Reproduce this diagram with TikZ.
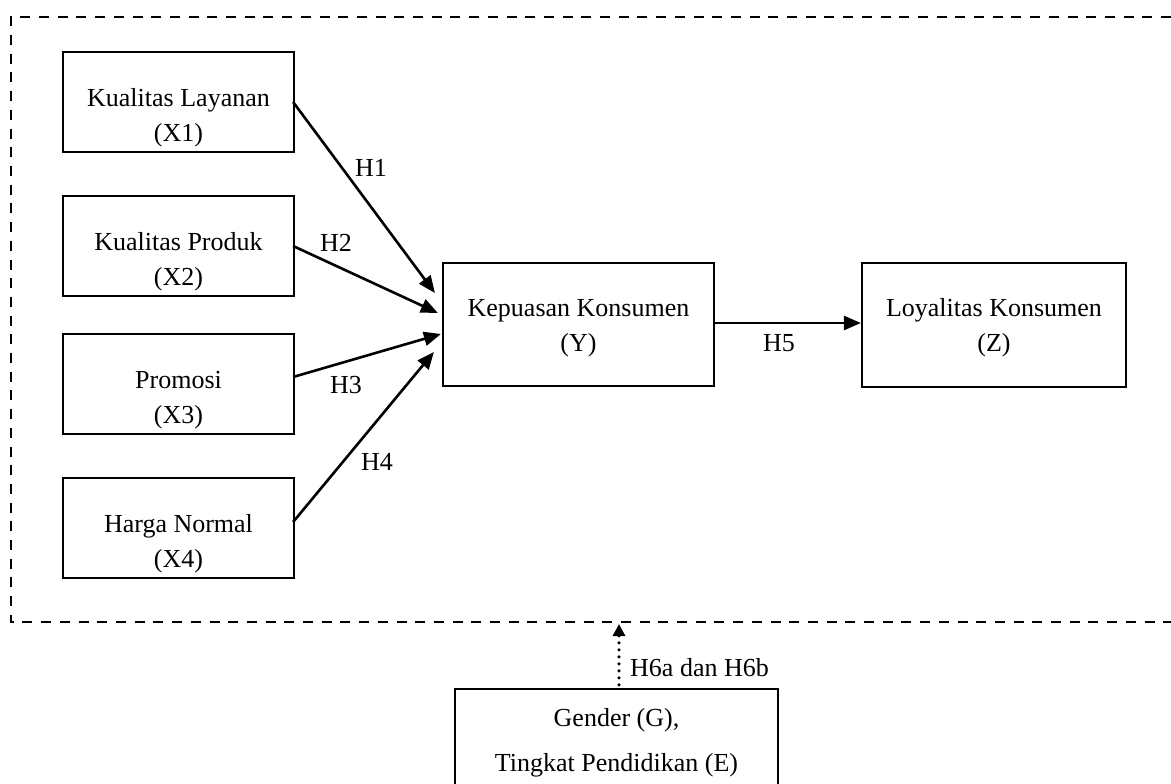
\documentclass[tikz,border=0pt]{standalone}
\usepackage{fontspec}
\setmainfont{Liberation Serif}
\usetikzlibrary{arrows.meta,calc}
\begin{document}
\begin{tikzpicture}[x=1pt,y=-1pt,
  box/.style={draw=black, line width=2.2pt, inner sep=0pt},
  txt/.style={font=\fontsize{26}{35}\selectfont, align=center, inner sep=0pt},
  lbl/.style={font=\fontsize{26}{31}\selectfont, inner sep=0pt},
  arr/.style={line width=2.6pt, -{Triangle[length=17pt,width=14pt]}},
  framedash/.style={line width=2.8pt, dash pattern=on 10pt off 8.7pt},
  dotarr/.style={line width=3.6pt, line cap=round, dash pattern=on 0pt off 7pt, -{Triangle[length=12pt,width=12pt]}}]
\clip (0,0) rectangle (1171,784);
\fill[white] (0,0) rectangle (1171,784);
% dashed frame
\draw[framedash] (1171,17) -- (11,17) -- (11,622) -- (1171,622);
\coordinate (fb) at (619,624);
% boxes
\node[box, minimum width=231pt, minimum height=100pt] (x1) at (178.5,102) {};
\node[box, minimum width=231pt, minimum height=100pt] (x2) at (178.5,246) {};
\node[box, minimum width=231pt, minimum height=100pt] (x3) at (178.5,384) {};
\node[box, minimum width=231pt, minimum height=100pt] (x4) at (178.5,528) {};
\node[box, minimum width=271pt, minimum height=123pt] (y) at (578.5,324.5) {};
\node[box, minimum width=264pt, minimum height=124pt] (z) at (994,325) {};
\node[box, minimum width=323pt, minimum height=160pt] (g) at (616.5,769) {};
% texts
\node[txt] (x1t) at ($(x1.center)+(0,16)$) {Kualitas Layanan\\(X1)};
\node[txt] (x2t) at ($(x2.center)+(0,16)$) {Kualitas Produk\\(X2)};
\node[txt] (x3t) at ($(x3.center)+(0,16)$) {Promosi\\(X3)};
\node[txt] (x4t) at ($(x4.center)+(0,16)$) {Harga Normal\\(X4)};
\node[txt] (yt) at ($(y.center)+(0,4)$) {Kepuasan Konsumen\\(Y)};
\node[txt] (zt) at ($(z.center)+(0,3)$) {Loyalitas Konsumen\\(Z)};
\node[txt, font=\fontsize{26}{45}\selectfont] (gt) at (616.5,743) {Gender (G),\\Tingkat Pendidikan (E)};
% arrows
\draw[arr] ($(x1.east)+(-2,0)$) -- ($(y.west)+(-7,-31.5)$);
\draw[arr] ($(x2.east)+(-2,0)$) -- ($(y.west)+(-4,-11.5)$);
\draw[arr] ($(x3.east)+(-2,-7)$) -- ($(y.west)+(-1,9.5)$);
\draw[arr] ($(x4.east)+(-2,-6)$) -- ($(y.west)+(-8,27.5)$);
\draw[arr] ($(y.east)+(0,-1.5)$) -- ($(z.west)+(0,-2)$);
\draw[dotarr] ($(g.north)+(2.5,-3)$) -- (fb);
% labels
\node[lbl] (h1) at (371,168) {H1};
\node[lbl] (h2) at (336,243) {H2};
\node[lbl] (h3) at (346,385) {H3};
\node[lbl] (h4) at (377,462) {H4};
\node[lbl] (h5) at (779,343) {H5};
\node[lbl, anchor=west] (h6) at (630,668) {H6a dan H6b};
\end{tikzpicture}
\end{document}
